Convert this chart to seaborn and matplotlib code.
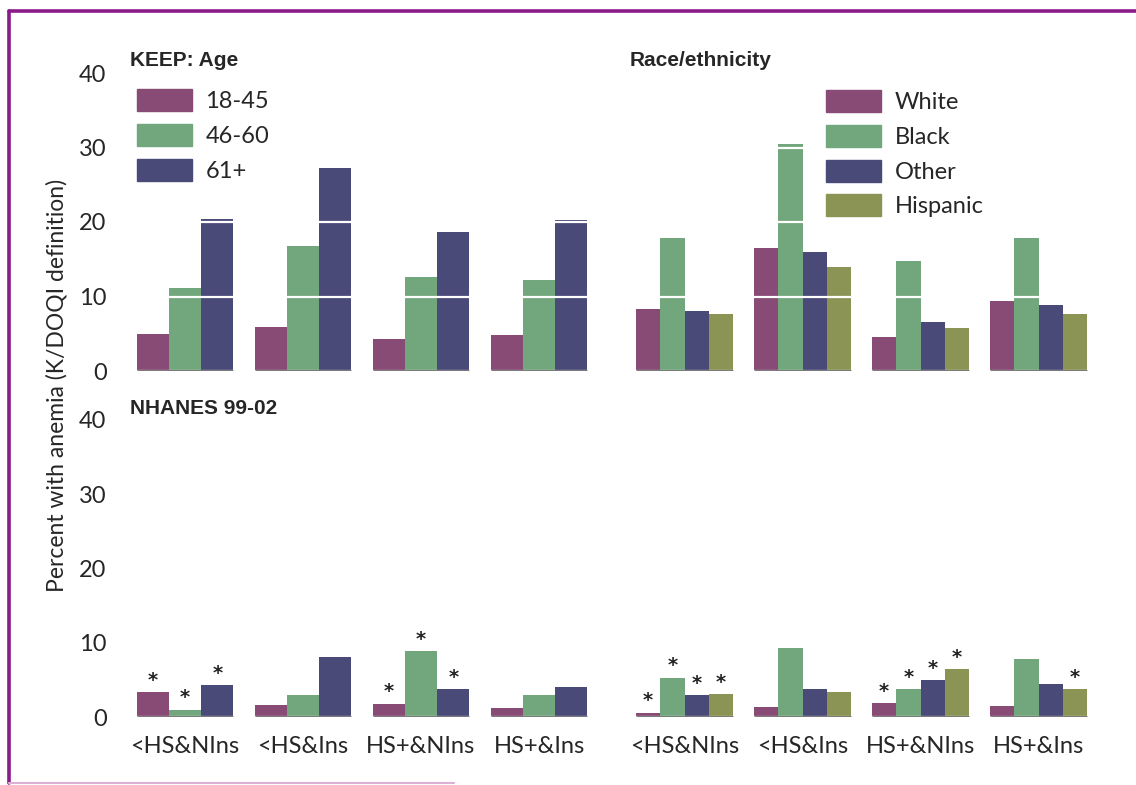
import pandas as pd
import seaborn as sns
import matplotlib.pyplot as plt
from matplotlib.lines import Line2D

education = ["<HS&NIns", "<HS&Ins", "HS+&NIns", "HS+&Ins"]
age_groups = ["18-45", "46-60", "61+"]
race_groups = ["White", "Black", "Other", "Hispanic"]

# percent with anemia, one row per group, one value per education/insurance level
keep_age = [[4.9, 5.9, 4.3, 4.8],
            [11.2, 16.8, 12.6, 12.2],
            [20.4, 27.2, 18.7, 20.3]]
keep_race = [[8.3, 16.5, 4.5, 9.4],
             [17.9, 30.5, 14.7, 17.9],
             [8.1, 16.0, 6.6, 8.8],
             [7.6, 14.0, 5.8, 7.7]]
nhanes_age = [[3.3, 1.6, 1.8, 1.25],
              [1.0, 2.95, 8.9, 2.95],
              [4.3, 8.1, 3.8, 4.1]]
nhanes_race = [[0.6, 1.3, 1.9, 1.5],
               [5.3, 9.3, 3.8, 7.8],
               [2.9, 3.8, 5.0, 4.5],
               [3.1, 3.4, 6.5, 3.8]]
# significance asterisks (NHANES only)
nhanes_age_star = [[1, 0, 1, 0], [1, 0, 1, 0], [1, 0, 1, 0]]
nhanes_race_star = [[1, 0, 1, 0], [1, 0, 1, 0], [1, 0, 1, 0], [1, 0, 1, 1]]

age_colors = ["#874B75", "#72A67C", "#4A4A79"]
race_colors = ["#874B75", "#72A67C", "#4A4A79", "#8C9455"]

TEXT_FONT = ["Lato", "DejaVu Sans"]
TITLE_FONT = ["Liberation Sans", "DejaVu Sans"]


def long_df(values, groups):
    rows = []
    for g, vals in zip(groups, values):
        for e, v in zip(education, vals):
            rows.append({"edu": e, "group": g, "pct": v})
    return pd.DataFrame(rows)


def draw_panel(ax, values, groups, colors, stars=None, show_y=False, show_x=False):
    df = long_df(values, groups)
    sns.barplot(data=df, x="edu", y="pct", hue="group", order=education,
                hue_order=groups, palette=colors, width=0.82, linewidth=0,
                saturation=1, legend=False, ax=ax)
    ax.set_ylim(0, 40)
    ax.set_xlim(-0.5, 3.5)
    ax.set_yticks([0, 10, 20, 30, 40])
    ax.grid(axis="y", color="white", lw=1.6)
    ax.grid(axis="x", visible=False)
    ax.set_axisbelow(False)
    for s in ax.spines.values():
        s.set_visible(False)
    ax.tick_params(length=0, labelsize=17, pad=14)
    ax.set_xlabel("")
    ax.set_ylabel("")
    for i in range(len(education)):
        ax.hlines(0, i - 0.41, i + 0.41, color="#6b6b6b", lw=2, zorder=5)
    if not show_y:
        ax.set_yticklabels([])
    else:
        for t in ax.get_yticklabels():
            t.set_family(TEXT_FONT)
    if not show_x:
        ax.set_xticklabels([])
    else:
        ax.tick_params(axis="x", pad=14)
        for t in ax.get_xticklabels():
            t.set_family(TEXT_FONT)
            t.set_fontsize(17)
    if stars is not None:
        for cont, flags in zip(ax.containers, stars):
            for bar, f in zip(cont, flags):
                if f:
                    ax.text(bar.get_x() + bar.get_width() / 2, bar.get_height() + 0.3,
                            "*", ha="center", va="bottom", fontsize=14,
                            fontweight="bold", color="#222222")


def add_legend(ax, groups, colors, x, y):
    handles = [plt.Rectangle((0, 0), 1, 1, color=c) for c in colors]
    leg = ax.legend(handles, groups, loc="upper left", bbox_to_anchor=(x, y),
                    bbox_transform=fig.transFigure, frameon=False,
                    prop={"family": TEXT_FONT, "size": 17},
                    handlelength=2.35, handleheight=1.05, labelspacing=0.5,
                    handletextpad=0.55, borderaxespad=0, borderpad=0)
    return leg


sns.set_style("white")
fig = plt.figure(figsize=(11.36, 7.85), dpi=100)

W = 472 / 1136
ax_tl = fig.add_axes([126 / 1136, 1 - 371 / 785, W, 298 / 785])
ax_tr = fig.add_axes([625.5 / 1136, 1 - 371 / 785, W, 298 / 785])
ax_bl = fig.add_axes([126 / 1136, 1 - 717 / 785, W, 297 / 785])
ax_br = fig.add_axes([625.5 / 1136, 1 - 717 / 785, W, 297 / 785])

draw_panel(ax_tl, keep_age, age_groups, age_colors, show_y=True)
draw_panel(ax_tr, keep_race, race_groups, race_colors)
draw_panel(ax_bl, nhanes_age, age_groups, age_colors, stars=nhanes_age_star,
           show_y=True, show_x=True)
draw_panel(ax_br, nhanes_race, race_groups, race_colors, stars=nhanes_race_star,
           show_x=True)

add_legend(ax_tl, age_groups, age_colors, 137 / 1136, 1 - 89 / 785)
add_legend(ax_tr, race_groups, race_colors, 826 / 1136, 1 - 90 / 785)

title_kw = dict(family=TITLE_FONT, fontweight="bold", fontsize=15, va="center")
fig.text(130 / 1136, 1 - 60 / 785, "KEEP: Age", **title_kw)
fig.text(630 / 1136, 1 - 60 / 785, "Race/ethnicity", **title_kw)
fig.text(130 / 1136, 1 - 409 / 785, "NHANES 99-02", **title_kw)
fig.text(57 / 1136, 1 - 385 / 785, "Percent with anemia (K/DOQI definition)",
         family=TEXT_FONT, fontsize=16.5, rotation=90, ha="center", va="center")

# purple frame
purple = "#8B1A8B"
fig.add_artist(Line2D([9 / 1136, 1], [1 - 11 / 785] * 2, color=purple, lw=2.6))
fig.add_artist(Line2D([9 / 1136] * 2, [2 / 785, 1 - 11 / 785], color=purple, lw=2.6))
fig.add_artist(Line2D([9 / 1136, 0.4], [2 / 785] * 2, color="#DDB0D6", lw=1.5))

fig.savefig("out.png", dpi=100)
